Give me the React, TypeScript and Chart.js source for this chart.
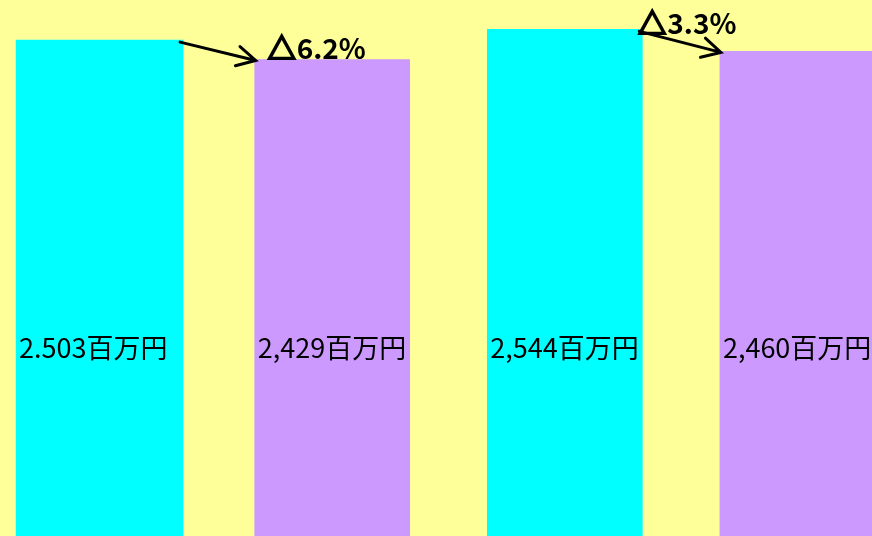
import React, { useEffect, useRef } from "react";
import { Chart, registerables } from "chart.js";

Chart.register(...registerables);

// ---- data ----
const categories = ["A", "B", "C", "D"];
const values = [2503, 2429, 2544, 2460];
const valueLabels = ["2.503百万円", "2,429百万円", "2,544百万円", "2,460百万円"];
const barColors = ["#00FFFF", "#CC99FF", "#00FFFF", "#CC99FF"];
const changeLabels = ["△6.2%", "△3.3%"];

const W = 872;
const H = 536;
const FONT = '"Noto Sans CJK JP", "Noto Sans", sans-serif';

function drawChange(ctx: CanvasRenderingContext2D, text: string, x: number, y: number) {
  const sym = text.charAt(0);
  const rest = text.slice(1);
  ctx.font = `bold 28px ${FONT}`;
  ctx.lineWidth = 2.2;
  ctx.lineJoin = "miter";
  ctx.strokeStyle = "#000";
  ctx.fillText(sym, x + 1, y);
  ctx.strokeText(sym, x + 1, y);
  const w = ctx.measureText(sym).width;
  ctx.fillText(rest, x + w + 2, y);
}

const overlayPlugin = {
  id: "overlay",
  beforeDraw(chart: any) {
    const ctx = chart.ctx;
    ctx.save();
    ctx.fillStyle = "#FFFF99";
    ctx.fillRect(0, 0, chart.width, chart.height);
    ctx.restore();
  },
  afterDatasetsDraw(chart: any) {
    const ctx = chart.ctx;
    const top = chart.chartArea.top;
    const bars: any[] = [];
    chart.data.datasets.forEach((_: any, di: number) => {
      chart.getDatasetMeta(di).data.forEach((el: any) => bars.push(el));
    });
    const box = (b: any) => {
      const p = b.getProps(["x", "y", "width"], true);
      return { left: p.x - p.width / 2, right: p.x + p.width / 2, top: p.y, x: p.x };
    };

    ctx.save();
    // value labels inside bars
    ctx.fillStyle = "#000";
    ctx.font = `27px ${FONT}`;
    ctx.textAlign = "left";
    ctx.textBaseline = "middle";
    bars.forEach((b, i) => {
      const r = box(b);
      ctx.fillText(valueLabels[i], r.left + 3, top + 348);
    });

    // arrows between pairs
    ctx.strokeStyle = "#000";
    ctx.lineWidth = 3;
    ctx.lineCap = "round";
    for (let k = 0; k < changeLabels.length; k++) {
      const a = box(bars[2 * k]);
      const b = box(bars[2 * k + 1]);
      const sx = a.right - 3;
      const sy = a.top + 2;
      const ex = b.left + 1;
      const ey = b.top + 1;
      ctx.beginPath();
      ctx.moveTo(sx, sy);
      ctx.lineTo(ex, ey);
      const ang = Math.atan2(ey - sy, ex - sx);
      const len = 21;
      const spread = (28 * Math.PI) / 180;
      ctx.moveTo(ex - len * Math.cos(ang - spread), ey - len * Math.sin(ang - spread));
      ctx.lineTo(ex, ey);
      ctx.lineTo(ex - len * Math.cos(ang + spread), ey - len * Math.sin(ang + spread));
      ctx.stroke();
    }

    // change labels
    ctx.textBaseline = "alphabetic";
    const b1 = box(bars[1]);
    drawChange(ctx, changeLabels[0], b1.left + 12, top + 59);
    const b2 = box(bars[2]);
    drawChange(ctx, changeLabels[1], b2.right - 5, top + 34);
    ctx.restore();
  },
};

export default function App() {
  const ref = useRef<HTMLCanvasElement | null>(null);

  useEffect(() => {
    if (!ref.current) return;
    const points = categories.map((_, i) => ({ x: i, y: values[i] }));
    const chart = new Chart(ref.current, {
      type: "bar",
      data: {
        datasets: [
          {
            label: categories[0],
            data: points.slice(0, 1),
            backgroundColor: barColors.slice(0, 1),
            barThickness: 167,
            stack: "s",
            borderWidth: 0,
          },
          {
            label: categories.slice(1).join(","),
            data: points.slice(1),
            backgroundColor: barColors.slice(1),
            barThickness: 155,
            stack: "s",
            borderWidth: 0,
          },
        ],
      },
      options: {
        animation: false,
        responsive: false,
        maintainAspectRatio: false,
        devicePixelRatio: 1,
        layout: { padding: 0 },
        plugins: {
          legend: { display: false },
          tooltip: { enabled: false },
        },
        scales: {
          x: {
            type: "linear",
            min: -0.4282,
            max: 3.3207,
            offset: false,
            display: false,
          },
          y: {
            type: "linear",
            min: 611,
            max: 2656,
            display: false,
          },
        },
      },
      plugins: [overlayPlugin],
    });
    return () => chart.destroy();
  }, []);

  return (
    <div
      style={{
        position: "fixed",
        left: 0,
        top: 0,
        width: W,
        height: H,
        overflow: "hidden",
        background: "#FFFF99",
      }}
    >
      <canvas ref={ref} width={W} height={H} style={{ display: "block" }} />
    </div>
  );
}
